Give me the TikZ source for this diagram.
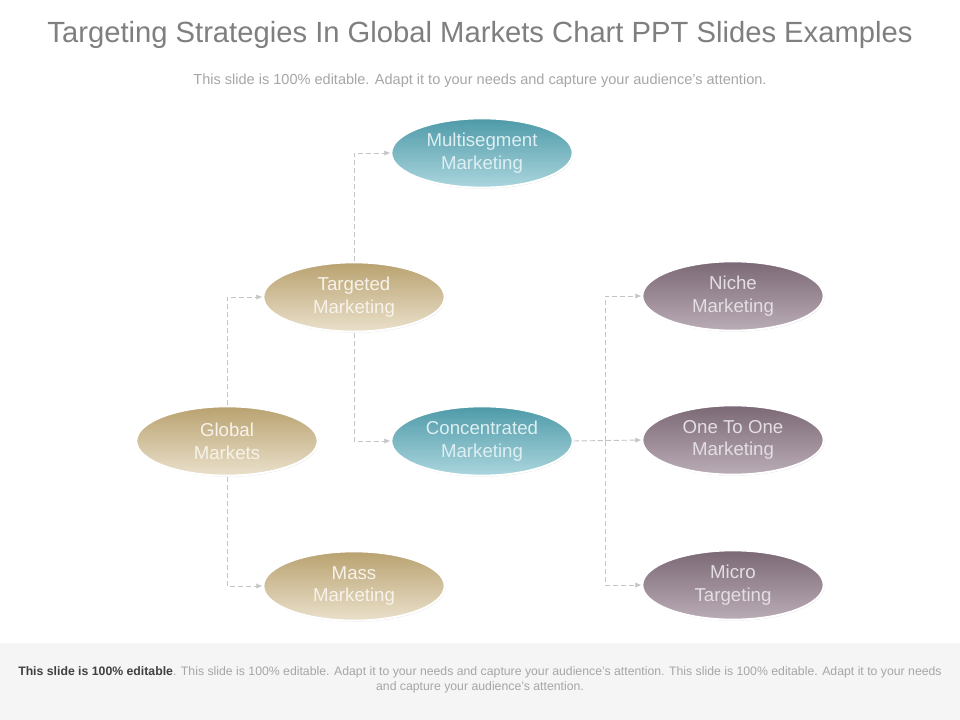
\documentclass[tikz,border=0pt]{standalone}
\usepackage{fontspec}
\setmainfont{Liberation Sans}
\usepackage{xcolor}
\usetikzlibrary{calc,shapes.geometric,arrows.meta,shadows}

\definecolor{tantop}{HTML}{B9A270}
\definecolor{tanbot}{HTML}{EAE0CB}
\definecolor{tealtop}{HTML}{4E9AA8}
\definecolor{tealbot}{HTML}{ABD6DE}
\definecolor{plumtop}{HTML}{7B6876}
\definecolor{plumbot}{HTML}{BAADB6}
\definecolor{titlegray}{HTML}{7F7F7F}
\definecolor{subgray}{HTML}{A6A6A6}
\definecolor{footband}{HTML}{F5F5F5}
\definecolor{linkgray}{HTML}{C4C4C4}

\tikzset{
	oval/.style={ellipse, minimum width=136pt, minimum height=52pt, inner sep=0pt,
		draw=white, line width=1.5pt, align=center, font=\fontsize{14}{17}\selectfont,
		drop shadow={opacity=0.25, shadow xshift=0.6pt, shadow yshift=-0.8pt}},
	tanoval/.style={oval, top color=tantop, bottom color=tanbot, text=tanbot!40!white},
	tealoval/.style={oval, top color=tealtop, bottom color=tealbot, text=tealbot!40!white},
	plumoval/.style={oval, top color=plumtop, bottom color=plumbot, text=plumbot!40!white},
	link/.style={draw=linkgray, line width=0.7pt, dash pattern=on 4pt off 2pt,
		-{Latex[length=4.5pt,width=4pt]}}
}

\begin{document}
\begin{tikzpicture}[x=0.75pt,y=-0.75pt]
			\useasboundingbox (0,0) rectangle (960,720);
			\fill[white] (0,0) rectangle (960,720);
			\fill[footband] (0,643) rectangle (960,720);

			% heading
			\node[text=titlegray, font=\fontsize{21.9}{26}\selectfont] (title) at (480,35)
				{Targeting Strategies In Global Markets Chart PPT Slides Examples};
			\node[text=subgray, font=\fontsize{10.9}{13}\selectfont] (subtitle) at (480,81)
				{This slide is 100\% editable. Adapt it to your needs and capture your audience's attention.};

			% ovals
			\node[tanoval] (global) at (227,441) {Global\\Markets};
			\node[tanoval] (targeted) at (354,297) {Targeted\\Marketing};
			\node[tanoval] (mass) at (354,586) {Mass\\Marketing};
			\node[tealoval] (multi) at (482,153) {Multisegment\\Marketing};
			\node[tealoval] (conc) at (482,441) {Concentrated\\Marketing};
			\node[plumoval] (niche) at (733,296) {Niche\\Marketing};
			\node[plumoval] (onetoone) at (733,440) {One To One\\Marketing};
			\node[plumoval] (micro) at (733,585) {Micro\\Targeting};

			% links
			\coordinate (split) at (605,441);
			\draw[link] (global.north) |- (targeted.west);
			\draw[link] (global.south) |- (mass.west);
			\draw[link] (targeted.north) |- (multi.west);
			\draw[link] (targeted.south) |- (conc.west);
			\draw[link] (conc.east) -- (onetoone.west);
			\draw[link] (split) |- (niche.west);
			\draw[link] (split) |- (micro.west);

			% footer
			\node[align=center, text=subgray, font=\fontsize{9.2}{11.5}\selectfont] (footer) at (480,680)
				{\textcolor{darkgray}{\bfseries This slide is 100\% editable}. This slide is 100\% editable. Adapt it to your needs and capture your audience's attention. This slide is 100\% editable. Adapt it to your needs\\and capture your audience's attention.};
		\end{tikzpicture}
\end{document}
